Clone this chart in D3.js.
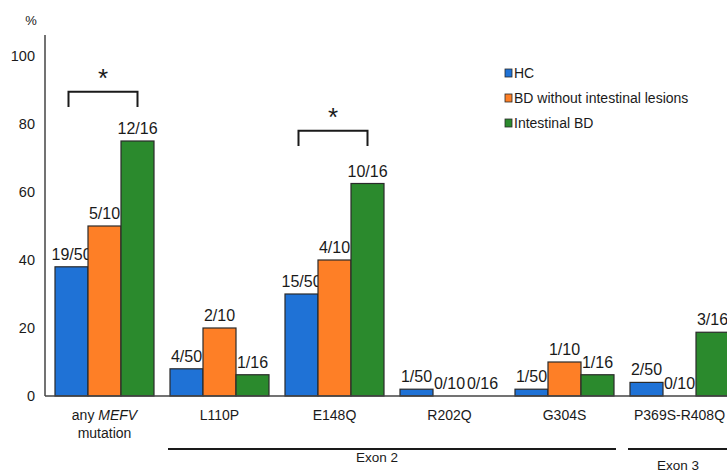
<!DOCTYPE html>
<html>
<head>
<meta charset="utf-8">
<script src="https://cdn.jsdelivr.net/npm/d3@7"></script>
<style>
  body { margin: 0; background: #fff; }
  text { font-family: "Liberation Sans", Arial, sans-serif; fill: #1a1a1a; }
</style>
</head>
<body>
<div id="chart"></div>
<script>
var w = 727;
var h = 472;

// data
var categories = ["any MEFV mutation", "L110P", "E148Q", "R202Q", "G304S", "P369S-R408Q"];
var seriesNames = ["HC", "BD without intestinal lesions", "Intestinal BD"];
var hc = [38, 8, 30, 2, 2, 4];
var bdNoIntestinal = [50, 20, 40, 0, 10, 0];
var intestinalBD = [75, 6.25, 62.5, 0, 6.25, 18.75];
var hcLabels = ["19/50", "4/50", "15/50", "1/50", "1/50", "2/50"];
var bdNoIntestinalLabels = ["5/10", "2/10", "4/10", "0/10", "1/10", "0/10"];
var intestinalBDLabels = ["12/16", "1/16", "10/16", "0/16", "1/16", "3/16"];
var yTicks = [0, 20, 40, 60, 80, 100];

var colors = ["#1f72d6", "#fe7f26", "#2b8a2d"];
var series = [hc, bdNoIntestinal, intestinalBD];
var labels = [hcLabels, bdNoIntestinalLabels, intestinalBDLabels];

var svg = d3.select("#chart")
			.append("svg")
			.attr("width", w)
			.attr("height", h);

var y = d3.scaleLinear()
			.domain([0, 100])
			.range([396, 56]);

// step 115, bars 33 wide
var x = d3.scaleBand()
			.domain(categories)
			.range([47, 47 + 6 * 115])
			.paddingInner(16 / 115)
			.paddingOuter(8 / 115);

var xSub = d3.scaleBand()
			.domain(seriesNames)
			.range([0, x.bandwidth()]);

// y axis (no ticks, just labels)
svg.append("line")
	.attr("x1", 45).attr("x2", 45)
	.attr("y1", 35).attr("y2", y(0))
	.attr("stroke", "#444")
	.attr("stroke-width", 1.5);

svg.selectAll("text.ytick")
	.data(yTicks)
	.enter()
	.append("text")
	.attr("class", "ytick")
	.attr("x", 35)
	.attr("y", function(d) { return y(d); })
	.attr("dy", "0.35em")
	.attr("text-anchor", "end")
	.attr("font-size", 14.5)
	.text(function(d) { return d; });

svg.append("text")
	.attr("x", 31)
	.attr("y", 20)
	.attr("dy", "0.35em")
	.attr("text-anchor", "middle")
	.attr("font-size", 13)
	.text("%");

// bars
var rows = [];
categories.forEach(function(c, i) {
	seriesNames.forEach(function(s, j) {
		rows.push({ cat: c, name: s, value: series[j][i], label: labels[j][i], k: j });
	});
});

var groups = svg.selectAll("g.bar")
				.data(rows)
				.enter()
				.append("g")
				.attr("class", "bar")
				.attr("transform", function(d) {
					return "translate(" + (x(d.cat) + xSub(d.name)) + ",0)";
				});

groups.filter(function(d) { return d.value > 0; })
	.append("rect")
	.attr("x", 0)
	.attr("y", function(d) { return y(d.value); })
	.attr("width", xSub.bandwidth())
	.attr("height", function(d) { return y(0) - y(d.value); })
	.attr("fill", function(d) { return colors[d.k]; })
	.attr("stroke", "#2a2a2a")
	.attr("stroke-width", 1.2);

groups.append("text")
	.attr("x", xSub.bandwidth() / 2)
	.attr("y", function(d) { return y(d.value) - 7; })
	.attr("text-anchor", "middle")
	.attr("font-size", 16)
	.text(function(d) { return d.label; });

// baseline
svg.append("line")
	.attr("x1", 45).attr("x2", w)
	.attr("y1", y(0)).attr("y2", y(0))
	.attr("stroke", "#444")
	.attr("stroke-width", 1.5);

// category labels
var catText = svg.selectAll("text.cat")
	.data(categories)
	.enter()
	.append("text")
	.attr("class", "cat")
	.attr("x", function(d) { return x(d) + x.bandwidth() / 2; })
	.attr("y", 420)
	.attr("text-anchor", "middle")
	.attr("font-size", 14);

catText.each(function(d) {
	var t = d3.select(this);
	if (d === "any MEFV mutation") {
		t.append("tspan").text("any ");
		t.append("tspan").attr("font-style", "italic").text("MEFV");
		t.append("tspan")
			.attr("x", x(d) + x.bandwidth() / 2)
			.attr("dy", 18)
			.text("mutation");
	} else {
		t.text(d);
	}
});

// exon groupings
var exons = [
	{ name: "Exon 2", from: "L110P", to: "G304S", ty: 462 },
	{ name: "Exon 3", from: "P369S-R408Q", to: "P369S-R408Q", ty: 470 }
];

exons.forEach(function(e) {
	var x1 = x(e.from) - 2;
	var x2 = Math.min(w, x(e.to) + x.bandwidth() + 2);
	svg.append("line")
		.attr("x1", x1).attr("x2", x2)
		.attr("y1", 449).attr("y2", 449)
		.attr("stroke", "#1a1a1a")
		.attr("stroke-width", 2);
	svg.append("text")
		.attr("x", e.name === "Exon 2" ? 377 : 678)
		.attr("y", e.ty)
		.attr("text-anchor", "middle")
		.attr("font-size", 13.5)
		.text(e.name);
});

// significance brackets
var brackets = [
	{ cat: "any MEFV mutation", top: 89.5, leg: 85, star: 91 },
	{ cat: "E148Q", top: 78, leg: 73.5, star: 79.5 }
];

brackets.forEach(function(b) {
	var bx1 = x(b.cat) + xSub("HC") + xSub.bandwidth() / 2 - 3;
	var bx2 = x(b.cat) + xSub("Intestinal BD") + xSub.bandwidth() / 2;
	svg.append("path")
		.attr("d", "M" + bx1 + "," + y(b.leg) + "V" + y(b.top) + "H" + bx2 + "V" + y(b.leg))
		.attr("fill", "none")
		.attr("stroke", "#1a1a1a")
		.attr("stroke-width", 2);
	svg.append("text")
		.attr("x", (bx1 + bx2) / 2)
		.attr("y", y(b.star))
		.attr("text-anchor", "middle")
		.attr("font-size", 26)
		.text("*");
});

// legend
var legend = svg.selectAll("g.legend")
				.data(seriesNames)
				.enter()
				.append("g")
				.attr("class", "legend")
				.attr("transform", function(d, i) {
					return "translate(505," + (73 + i * 25) + ")";
				});

legend.append("rect")
	.attr("x", 0)
	.attr("y", -4)
	.attr("width", 7)
	.attr("height", 8)
	.attr("fill", function(d, i) { return colors[i]; })
	.attr("stroke", "#2a2a2a")
	.attr("stroke-width", 0.8);

legend.append("text")
	.attr("x", 9)
	.attr("y", 0)
	.attr("dy", "0.35em")
	.attr("font-size", 14)
	.text(function(d) { return d; });
</script>
</body>
</html>
